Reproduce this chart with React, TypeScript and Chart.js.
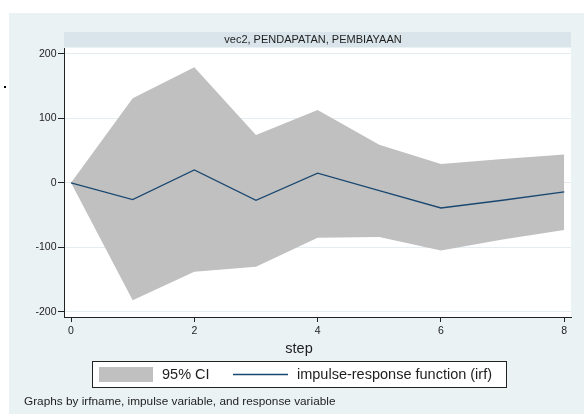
import React, { useEffect, useRef } from "react";
import { Chart, registerables } from "chart.js";

Chart.register(...registerables);

// ---- data ----
const steps = [0, 1, 2, 3, 4, 5, 6, 7, 8];
const irf = [0, -26, 20, -27, 15, -12, -39, -27, -14];
const ciUpper = [0, 131, 179, 74, 113, 59, 29, 37, 44];
const ciLower = [0, -182, -138, -130, -85, -84, -105, -88, -73];
const xTicks = [0, 2, 4, 6, 8];
const yTicks = [-200, -100, 0, 100, 200];
const stripTitle = "vec2, PENDAPATAN, PEMBIAYAAN";
const xTitle = "step";
const ciLabel = "95% CI";
const irfLabel = "impulse-response function (irf)";
const noteText = "Graphs by irfname, impulse variable, and response variable";

const FONT = "'Liberation Sans', Arial, sans-serif";
const OUTER_BG = "#eaf2f3";
const STRIP_BG = "#d9e5ea";
const CI_COLOR = "#c0c0c0";
const IRF_COLOR = "#1a476f";
const TEXT = "#1e1e1e";

const decorPlugin = {
  id: "stataDecor",
  beforeDraw(chart: any) {
    const { ctx, chartArea } = chart;
    const W = chart.width;
    const H = chart.height;
    ctx.save();
    ctx.fillStyle = "#ffffff";
    ctx.fillRect(0, 0, W, H);
    ctx.fillStyle = OUTER_BG;
    ctx.fillRect(9, 13, W - 9, H - 13);
    // strip
    ctx.fillStyle = STRIP_BG;
    ctx.fillRect(chartArea.left, 32, chartArea.right - chartArea.left, 15);
    ctx.fillStyle = TEXT;
    ctx.font = `11px ${FONT}`;
    ctx.textAlign = "center";
    ctx.textBaseline = "middle";
    ctx.fillText(stripTitle, 313, 40);
    // plot region
    ctx.fillStyle = "#ffffff";
    ctx.fillRect(
      chartArea.left,
      chartArea.top,
      chartArea.right - chartArea.left,
      chartArea.bottom - chartArea.top
    );
    ctx.restore();
  },
  afterDraw(chart: any) {
    const { ctx } = chart;
    const ds = chart.data.datasets;
    ctx.save();
    // stray dot
    ctx.fillStyle = "#000";
    ctx.fillRect(4, 86, 2, 2);
    // x title
    ctx.fillStyle = TEXT;
    ctx.font = `14.5px ${FONT}`;
    ctx.textAlign = "center";
    ctx.textBaseline = "alphabetic";
    ctx.fillText(xTitle, 299, 353);
    // legend box
    ctx.fillStyle = "#ffffff";
    ctx.fillRect(92.5, 361.5, 414, 26);
    ctx.strokeStyle = "#222";
    ctx.lineWidth = 1;
    ctx.strokeRect(92.5, 361.5, 414, 26);
    ctx.fillStyle = ds[1].backgroundColor;
    ctx.fillRect(99, 367, 54, 15);
    ctx.fillStyle = TEXT;
    ctx.font = `14.5px ${FONT}`;
    ctx.textAlign = "left";
    ctx.textBaseline = "middle";
    ctx.fillText(ds[1].label, 162, 375);
    ctx.strokeStyle = ds[2].borderColor;
    ctx.lineWidth = 1.5;
    ctx.beginPath();
    ctx.moveTo(233, 374.5);
    ctx.lineTo(288, 374.5);
    ctx.stroke();
    ctx.fillText(ds[2].label, 297, 375);
    // note
    ctx.font = `11.8px ${FONT}`;
    ctx.textBaseline = "alphabetic";
    ctx.fillText(noteText, 24, 405);
    ctx.restore();
  },
};

export default function App() {
  const ref = useRef<HTMLCanvasElement | null>(null);

  useEffect(() => {
    if (!ref.current) return;
    const pts = (arr: number[]) => steps.map((s, i) => ({ x: s, y: arr[i] }));
    const chart = new Chart(ref.current, {
      type: "line",
      data: {
        datasets: [
          {
            label: "lower",
            data: pts(ciLower),
            borderWidth: 0,
            pointRadius: 0,
            fill: false,
            tension: 0,
            order: 2,
          },
          {
            label: ciLabel,
            data: pts(ciUpper),
            borderWidth: 0,
            pointRadius: 0,
            backgroundColor: CI_COLOR,
            borderColor: CI_COLOR,
            fill: "-1",
            tension: 0,
            order: 2,
          },
          {
            label: irfLabel,
            data: pts(irf),
            borderColor: IRF_COLOR,
            borderWidth: 1.3,
            pointRadius: 0,
            fill: false,
            tension: 0,
            order: 0,
          },
        ],
      },
      options: {
        responsive: false,
        animation: false,
        devicePixelRatio: 1,
        layout: { padding: { left: 0, top: 48, right: 13, bottom: 0 } },
        plugins: {
          legend: { display: false },
          tooltip: { enabled: false },
          title: { display: false },
        },
        scales: {
          x: {
            type: "linear",
            min: -0.114,
            max: 8.11,
            afterBuildTicks: (s: any) => {
              s.ticks = xTicks.map((v) => ({ value: v }));
            },
            afterFit: (s: any) => {
              s.height = 97;
            },
            grid: {
              drawOnChartArea: false,
              tickColor: "#222",
              tickLength: 5,
            },
            border: { color: "#222", width: 1 },
            ticks: {
              autoSkip: false,
              maxRotation: 0,
              padding: 3,
              color: TEXT,
              font: { family: FONT, size: 10.5 },
              callback: (v: any) => String(v),
            },
          },
          y: {
            type: "linear",
            min: -208,
            max: 209,
            afterBuildTicks: (s: any) => {
              s.ticks = yTicks.map((v) => ({ value: v }));
            },
            afterFit: (s: any) => {
              s.width = 64;
            },
            grid: {
              color: "#e4edf0",
              lineWidth: 1,
              tickColor: "#222",
              tickLength: 6,
            },
            border: { color: "#222", width: 1 },
            ticks: {
              padding: 1.5,
              color: TEXT,
              font: { family: FONT, size: 10.5 },
              callback: (v: any) => String(v),
            },
          },
        },
      },
      plugins: [decorPlugin],
    });
    return () => chart.destroy();
  }, []);

  return (
    <div style={{ position: "absolute", left: 0, top: 0, width: 584, height: 414 }}>
      <canvas ref={ref} width={584} height={414} style={{ display: "block" }} />
    </div>
  );
}
